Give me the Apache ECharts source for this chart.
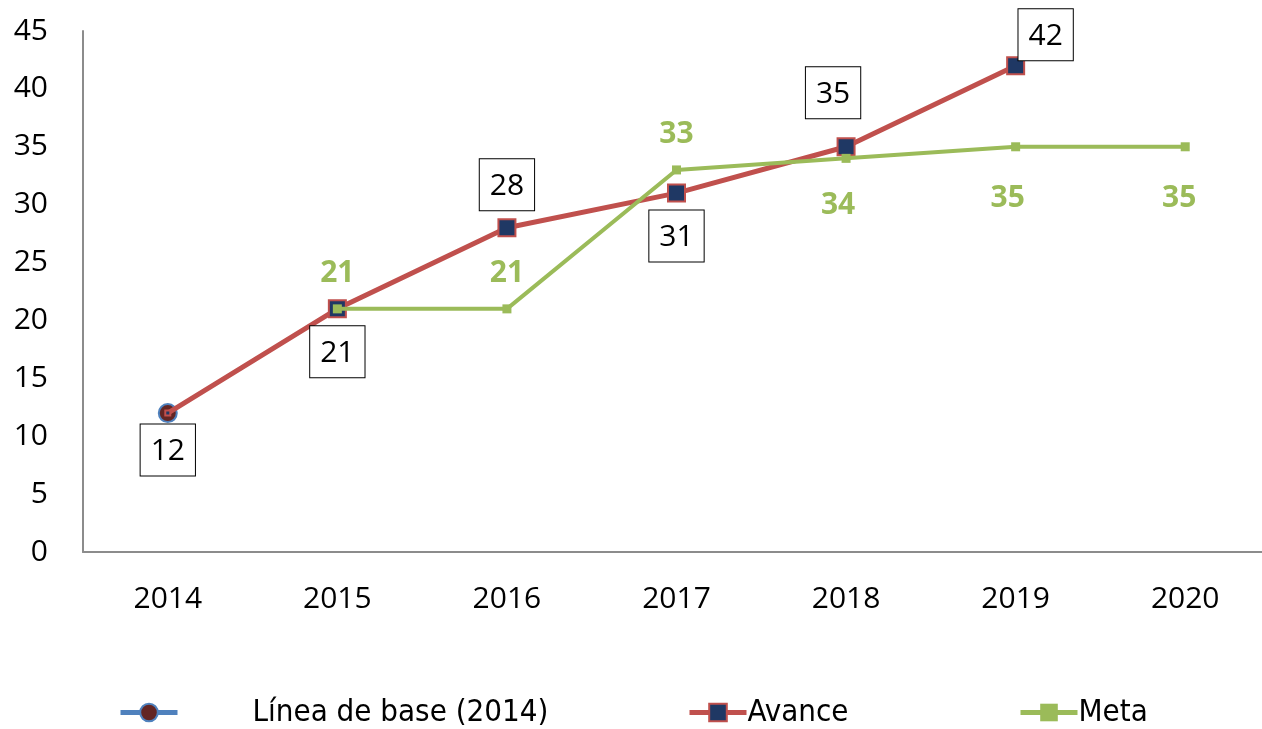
<!DOCTYPE html>
<html>
<head>
<meta charset="utf-8">
<script src="https://cdn.jsdelivr.net/npm/echarts@6/dist/echarts.min.js"></script>
<style>
  html, body { margin: 0; padding: 0; background: #fff; }
  #chart { width: 1262px; height: 729px; }
</style>
</head>
<body>
<div id="chart"></div>
<script>
const years = ['2014', '2015', '2016', '2017', '2018', '2019', '2020'];
const baseValues = [12, null, null, null, null, null, null];
const avanceValues = [12, 21, 28, 31, 35, 42, null];
const metaValues = [null, 21, 21, 33, 34, 35, 35];
const yTicks = [0, 45, 5]; // min, max, interval

// posicion de etiquetas de "Avance" y "Meta" (arriba/abajo)
const avancePos = ['bottom', 'bottom', 'top', 'bottom', 'top', 'top', 'top'];
const avanceOffset = [[0, 0], [0, 0], [0, 0], [0, 0], [-13, -11], [30, 12], [0, 0]];
const metaPos = ['top', 'top', 'top', 'top', 'bottom', 'bottom', 'bottom'];
const metaOffset = [[0, 0], [0, 0], [0, 0], [0, 0], [-8, 12], [-8, 16], [-6, 16]];

const FONT = "'Open Sans', sans-serif";
const NARROW = "'Liberation Sans Narrow', 'DejaVu Sans Condensed', sans-serif";

const chart = echarts.init(document.getElementById('chart'));

const legendBase = {
  top: 692,
  itemWidth: 57, itemHeight: 22,
  lineStyle: { width: 5 }
};

const option = {
  animation: false,
  grid: { left: 83, right: -8, top: 31, bottom: 177, outerBoundsMode: 'none', containLabel: false },
  legend: [
    Object.assign({}, legendBase, {
      data: ['Línea de base (2014)'],
      left: 113,
      textStyle: { fontFamily: NARROW, fontSize: 31, color: '#000', padding: [0, 0, 0, 70] }
    }),
    Object.assign({}, legendBase, {
      data: ['Avance'],
      left: 682,
      textStyle: { fontFamily: NARROW, fontSize: 31, color: '#000', padding: [0, 0, 0, -4] }
    }),
    Object.assign({}, legendBase, {
      data: ['Meta'],
      left: 1013,
      textStyle: { fontFamily: NARROW, fontSize: 31, color: '#000', padding: [0, 0, 0, -4] }
    })
  ],
  xAxis: {
    type: 'category',
    data: years,
    boundaryGap: true,
    axisLine: { lineStyle: { color: '#8c8c8c', width: 2 } },
    axisTick: { show: false },
    axisLabel: { fontFamily: FONT, fontSize: 30, color: '#000', margin: 32 }
  },
  yAxis: {
    type: 'value',
    min: yTicks[0], max: yTicks[1], interval: yTicks[2],
    axisLine: { show: true, lineStyle: { color: '#8c8c8c', width: 2 } },
    axisTick: { show: false },
    splitLine: { show: false },
    axisLabel: { fontFamily: FONT, fontSize: 30, color: '#000', margin: 35 }
  },
  series: [
    {
      name: 'Avance',
      type: 'line',
      z: 3,
      data: avanceValues.map((v, i) => ({
        value: v,
        symbolSize: i === 0 ? 5 : 17,
        label: {
          show: true,
          position: avancePos[i],
          offset: avanceOffset[i],
          distance: 8,
          fontFamily: FONT, fontSize: 30, color: '#000',
          backgroundColor: '#fff',
          borderColor: '#000', borderWidth: 1,
          padding: [12, 10, 9, 10]
        }
      })),
      symbol: 'rect',
      lineStyle: { color: '#c0504d', width: 5 },
      itemStyle: { color: '#1f3864', borderColor: '#c0504d', borderWidth: 2 },
      color: '#c0504d'
    },
    {
      name: 'Meta',
      type: 'line',
      z: 4,
      data: metaValues.map((v, i) => ({
        value: v,
        label: {
          show: true,
          position: metaPos[i],
          offset: metaOffset[i],
          distance: 16,
          fontFamily: FONT, fontSize: 30, fontWeight: 'bold', color: '#9bbb59'
        }
      })),
      symbol: 'rect',
      symbolSize: 9,
      lineStyle: { color: '#9bbb59', width: 4 },
      itemStyle: { color: '#9bbb59' },
      color: '#9bbb59'
    },
    {
      name: 'Línea de base (2014)',
      type: 'line',
      z: 2,
      data: baseValues,
      symbol: 'circle',
      symbolSize: 18,
      lineStyle: { color: '#4f81bd', width: 5 },
      itemStyle: { color: '#632523', borderColor: '#4f81bd', borderWidth: 2 },
      color: '#4f81bd'
    }
  ]
};

chart.setOption(option);
</script>
</body>
</html>
